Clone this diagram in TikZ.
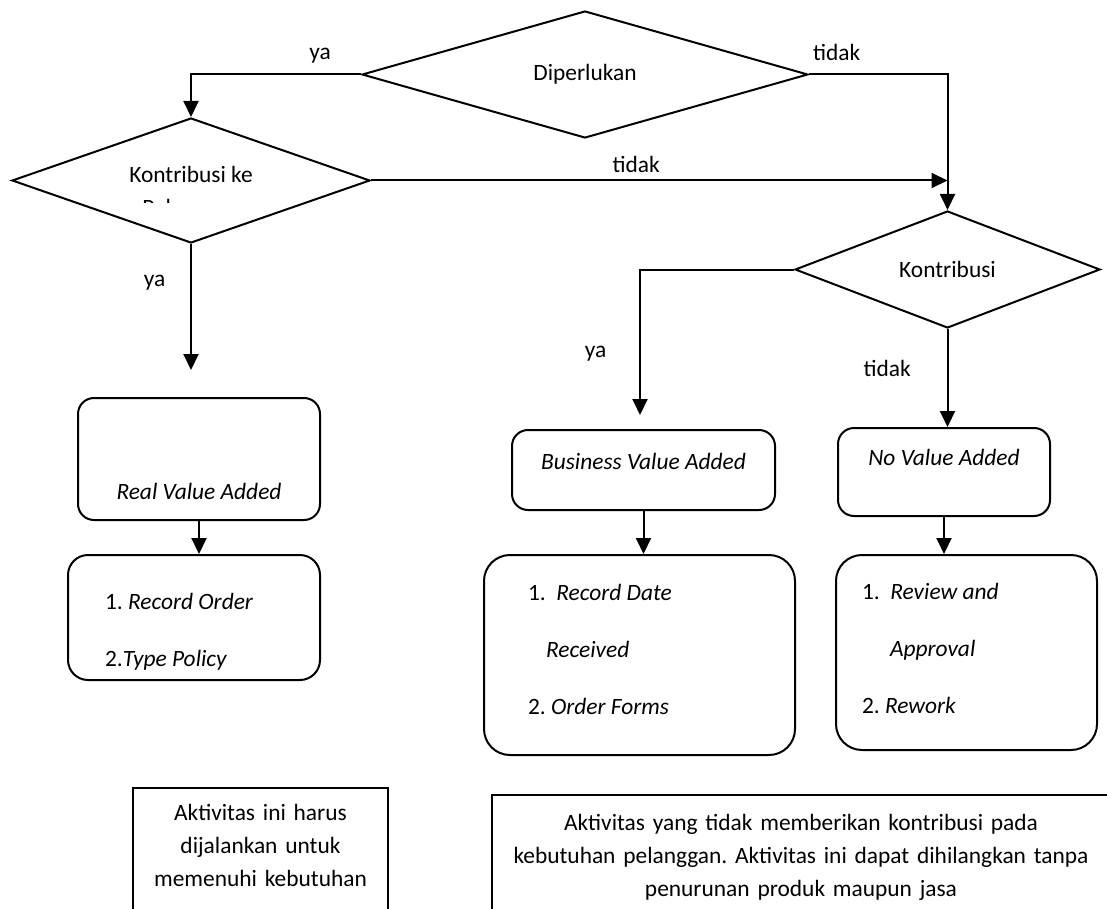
\documentclass[tikz,border=0pt]{standalone}
\usepackage{fontspec}
\setmainfont{Carlito}
\usetikzlibrary{shapes.geometric,arrows.meta,positioning}
\frenchspacing
\begin{document}
\begin{tikzpicture}[x=0.5pt, y=-0.5pt, line width=1pt,
	font=\fontsize{11.7}{14}\selectfont,
	decision/.style={diamond, draw, inner sep=0pt, shape aspect=2},
	box/.style={draw, rounded corners=8pt, inner sep=0pt},
	listtext/.style={align=left, inner sep=0pt, font=\fontsize{11.7}{28.5}\selectfont},
	notebox/.style={draw, align=center, anchor=base, inner xsep=4pt, inner ysep=8pt,
		text height=8pt, text depth=70pt, font=\fontsize{11.7}{16.5}\selectfont},
	flow/.style={-{Triangle[width=7.5pt, length=8pt]}}]
	\useasboundingbox (0,0) rectangle (1107,909);
	\clip (0,0) rectangle (1107,909);
	% keputusan
	\node[decision, minimum width=223pt, minimum height=63.5pt] (perlu) at (585,74.5) {Diperlukan};
	\node[decision, minimum width=179pt, minimum height=62.5pt] (pelanggan) at (191,180.5) {};
	\node (konke) at (191,174) {Kontribusi ke};
	\begin{scope}
		\clip (100,190) rectangle (300,203);
		\node[anchor=base] (konpel) at (191,215) {Pelanggan};
	\end{scope}
	\node[decision, minimum width=152.5pt, minimum height=58.5pt] (kontribusi) at (947.5,269.5) {Kontribusi};
	% kotak nilai
	\node[box, minimum width=121pt, minimum height=61pt] (rva) at (199,459) {};
	\node (rvateks) at ([yshift=15pt]rva.south) {\textit{Real Value Added}};
	\node[box, minimum width=131.5pt, minimum height=40pt] (bva) at (643.5,470) {};
	\node (bvateks) at ([yshift=-16pt]bva.north) {\textit{Business Value Added}};
	\node[box, minimum width=106pt, minimum height=44pt] (nva) at (944,472) {};
	\node (nvateks) at ([yshift=-15pt]nva.north) {\textit{No Value Added}};
	% daftar aktivitas
	\node[box, rounded corners=10pt, minimum width=126pt, minimum height=62.5pt] (ro) at (194,617.5) {};
	\node[listtext, below right=19pt and 18.5pt of ro.north west] (roteks)
		{1. \textit{Record Order}\\2.\textit{Type Policy}};
	\node[box, rounded corners=13pt, minimum width=155.5pt, minimum height=100pt] (rd) at (639.5,655) {};
	\node[listtext, below right=14.5pt and 22pt of rd.north west] (rdteks)
		{1.\ \ \textit{Record Date}\\\hspace*{9pt}\textit{Received}\\2. \textit{Order Forms}};
	\node[box, rounded corners=13pt, minimum width=130.5pt, minimum height=97.5pt] (rv) at (966.5,652.5) {};
	\node[listtext, below right=14pt and 13pt of rv.north west] (rvteks)
		{1.\ \ \textit{Review and}\\\hspace*{14pt}\textit{Approval}\\2. \textit{Rework}};
	% keterangan
	\node[notebox, text width=119.5pt] (catatanriil) at (260.5,820)
		{Aktivitas ini harus\\dijalankan untuk\\memenuhi kebutuhan};
	\node[notebox, text width=301pt, inner ysep=9.5pt] (catatannva) at (801,830)
		{Aktivitas yang tidak memberikan kontribusi pada\\kebutuhan pelanggan. Aktivitas ini dapat dihilangkan tanpa\\penurunan produk maupun jasa};
	% alur
	\coordinate (rvatip) at (191,370);
	\coordinate (bvatip) at (640,415);
	\draw[flow] (perlu.west) -| (pelanggan.north) node[pos=0.12, above=2pt] {ya};
	\draw[flow] (perlu.east) -| (kontribusi.north) node[pos=0.1, above=3pt] {tidak};
	\draw[flow] (pelanggan.east) -- (pelanggan.east -| kontribusi.north) node[pos=0.46, above] {tidak};
	\draw[flow] (pelanggan.south) -- (rvatip) node[pos=0.31, left=9pt] {ya};
	\draw[flow] (rva.south) -- (rva.south |- ro.north);
	\draw[flow] (kontribusi.west) -| (bvatip) node[pos=0.79, left=13pt] {ya};
	\draw[flow] (kontribusi.south) -- (kontribusi.south |- nva.north) node[pos=0.4, left=14.5pt] {tidak};
	\draw[flow] (bva.south) -- (bva.south |- rd.north);
	\draw[flow] (nva.south) -- (nva.south |- rv.north);
\end{tikzpicture}
\end{document}
